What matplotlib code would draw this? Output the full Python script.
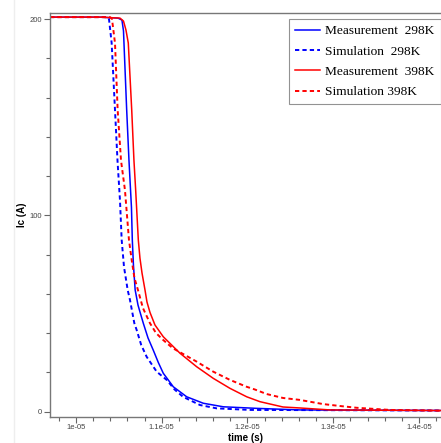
import numpy as np
import matplotlib
matplotlib.use("Agg")
from matplotlib import pyplot as plt
from matplotlib.ticker import MultipleLocator, FuncFormatter

# time in microseconds, current in A
t_meas_298 = [9.697, 10.28, 10.49, 10.536, 10.554, 10.591, 10.618, 10.647, 10.657, 10.67,
              10.69, 10.723, 10.746, 10.785, 10.84, 10.901, 10.96, 11.018, 11.135, 11.291,
              11.485, 11.718, 12.107, 12.612, 14.26]
i_meas_298 = [201, 201, 200.5, 199.5, 194, 154, 128, 104, 87.4, 74.7,
              62, 54.3, 50.8, 45, 37.5, 31.3, 25, 19.5, 12.6, 7.5,
              4.2, 2.4, 1.6, 0.8, 0.5]

t_sim_298 = [9.697, 10.362, 10.385, 10.416, 10.455, 10.484, 10.513, 10.533, 10.56, 10.603,
             10.63, 10.68, 10.708, 10.76, 10.824, 10.941, 11.058, 11.15, 11.248, 11.446,
             11.641, 12.03, 14.26]
i_sim_298 = [201, 201, 200, 187.8, 153.7, 128, 107.7, 87.4, 73.7, 61.9,
             56.8, 45.1, 41.5, 34, 27.9, 20.3, 16.1, 11.2, 7.5, 3.3,
             1.6, 0.8, 0.5]

t_meas_398 = [9.697, 10.28, 10.513, 10.554, 10.583, 10.61, 10.65, 10.676, 10.696, 10.727,
              10.746, 10.77, 10.805, 10.828, 10.863, 10.921, 11.018, 11.213, 11.408, 11.601,
              11.796, 11.991, 12.146, 12.414, 12.612, 12.962, 14.26]
i_meas_398 = [201, 201, 200.5, 199, 194.4, 187.8, 153.7, 128, 112.9, 87.4,
              78.2, 70.6, 61.9, 55.8, 50.5, 44.1, 38.1, 29.7, 22.8, 16.9,
              11.8, 7.5, 5.0, 2.3, 1.8, 0.8, 0.5]

t_sim_398 = [9.697, 10.397, 10.42, 10.455, 10.486, 10.525, 10.571, 10.618, 10.653, 10.682,
             10.723, 10.781, 10.863, 10.933, 11.018, 11.128, 11.408, 11.601, 11.796, 11.991,
             12.087, 12.224, 12.414, 12.612, 12.88, 13.079, 13.273, 13.662, 14.26]
i_sim_398 = [201, 201, 200, 187.8, 153.7, 128, 112.9, 87.4, 76.2, 68,
             61.9, 52.7, 45, 40, 36.4, 32.3, 25.4, 20.3, 16.1, 12.6,
             11.2, 8.9, 6.9, 5.9, 3.8, 2.8, 1.9, 0.8, 0.4]

us = 1e-6
fig = plt.figure(figsize=(4.41, 4.43), dpi=100)
ax = fig.add_axes([50 / 441, 1 - 416.7 / 443, 391 / 441, (416.7 - 13) / 443])

dots = (0, (2.2, 1.6))
ax.plot(np.array(t_meas_298) * us, i_meas_298, color="#0000ff", lw=1.1, label="Measurement  298K")
ax.plot(np.array(t_sim_298) * us, i_sim_298, color="#0000ff", lw=1.4, ls=dots, label="Simulation  298K")
ax.plot(np.array(t_meas_398) * us, i_meas_398, color="#ff0000", lw=1.1, label="Measurement  398K")
ax.plot(np.array(t_sim_398) * us, i_sim_398, color="#ff0000", lw=1.4, ls=dots, label="Simulation 398K")

ax.set_xlim(9.697e-6, 14.257e-6)
ax.set_ylim(-2.65, 203.1)

ax.xaxis.set_major_locator(MultipleLocator(1e-6))
ax.xaxis.set_minor_locator(MultipleLocator(0.2e-6))
ax.xaxis.set_major_formatter(FuncFormatter(lambda v, p: format(v, ".2g")))
ax.yaxis.set_major_locator(MultipleLocator(100))
ax.yaxis.set_minor_locator(MultipleLocator(20))

ax.tick_params(which="both", direction="out", colors="#666666", labelsize=5.5, width=0.8, pad=1.5)
ax.tick_params(which="major", length=4, labelcolor="#444444")
ax.tick_params(which="minor", length=3)
for lbl in ax.get_xticklabels() + ax.get_yticklabels():
    lbl.set_family("Liberation Sans")
for side in ["left", "bottom", "top"]:
    ax.spines[side].set_color("#777777")
    ax.spines[side].set_linewidth(1.0)
ax.spines["right"].set_visible(False)

ax.set_xlabel("time (s)", fontsize=7, fontweight="bold", family="Liberation Sans", labelpad=1)
ax.set_ylabel("Ic (A)", fontsize=7, fontweight="bold", family="Liberation Sans", labelpad=2)

leg = ax.legend(loc="upper right", bbox_to_anchor=(0.999, 0.985), prop={"family": "Liberation Serif", "size": 9.6},
                frameon=True, fancybox=False, handlelength=1.9, handletextpad=0.4, labelspacing=0.6,
                borderpad=0.45, borderaxespad=0)
leg.get_frame().set_edgecolor("#777777")
leg.get_frame().set_linewidth(0.8)

# faint panel edge on the left
fig.add_artist(plt.Line2D([14 / 441, 14 / 441], [0, 1], color="#eeeeee", lw=1))

fig.savefig("out.png", dpi=100)
